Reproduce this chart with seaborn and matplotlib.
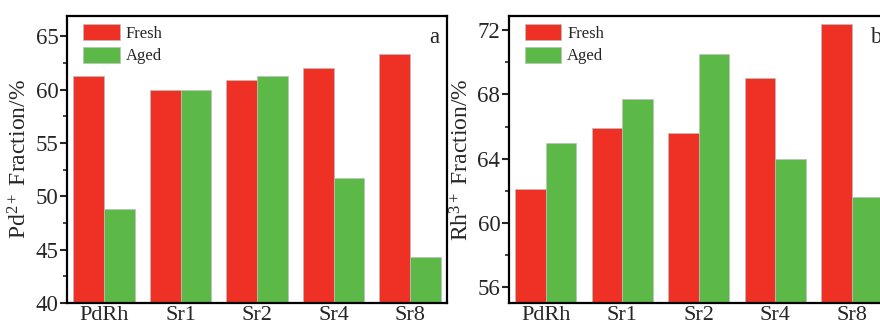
import matplotlib
matplotlib.use("Agg")
import matplotlib.pyplot as plt
from matplotlib.ticker import MultipleLocator
import pandas as pd
import seaborn as sns

# ---------------------------------------------------------------------------
# Data
# ---------------------------------------------------------------------------
samples = ["PdRh", "Sr1", "Sr2", "Sr4", "Sr8"]
states = ["Fresh", "Aged"]
pd_fresh = [61.3, 60.0, 60.9, 62.0, 63.3]
pd_aged = [48.8, 60.0, 61.3, 51.7, 44.3]
rh_fresh = [62.1, 65.9, 65.6, 69.0, 72.4]
rh_aged = [65.0, 67.7, 70.5, 64.0, 61.6]

colors = {"Fresh": "#EE3124", "Aged": "#5DB947"}


def long_frame(fresh, aged):
    return pd.DataFrame({
        "sample": samples * 2,
        "state": ["Fresh"] * len(samples) + ["Aged"] * len(samples),
        "value": list(fresh) + list(aged),
    })


sns.set_style("ticks")
plt.rcParams["font.family"] = ["Liberation Serif", "DejaVu Serif"]
plt.rcParams["mathtext.fontset"] = "custom"
plt.rcParams["mathtext.rm"] = "Liberation Serif"
plt.rcParams["mathtext.it"] = "Liberation Serif:italic"

fig = plt.figure(figsize=(8.8, 3.27), dpi=100)
ax_a = fig.add_axes([0.0761, 0.0734, 0.432, 0.878])
ax_b = fig.add_axes([0.578, 0.0734, 0.432, 0.878])

panels = [
    (ax_a, long_frame(pd_fresh, pd_aged), "Pd$^{2+}$ Fraction/%", (40, 66.9), 5, 2.5, "a"),
    (ax_b, long_frame(rh_fresh, rh_aged), "Rh$^{3+}$ Fraction/%", (55, 72.9), 4, 2, "b"),
]

for ax, df, ylabel, ylim, major, minor, tag in panels:
    sns.barplot(data=df, x="sample", y="value", hue="state", hue_order=states,
                order=samples, palette=colors, width=0.8, gap=0,
                edgecolor="#bdbdbd", linewidth=0.5, saturation=1,
                errorbar=None, ax=ax)
    ax.set_xlim(-0.485, 4.485)
    ax.set_ylim(*ylim)
    ax.yaxis.set_major_locator(MultipleLocator(major))
    ax.yaxis.set_minor_locator(MultipleLocator(minor))
    ax.set_xlabel("")
    ax.set_ylabel(ylabel, fontsize=17, labelpad=3)
    ax.tick_params(axis="y", which="major", direction="out", length=5, width=1.5,
                   labelsize=16.5, pad=1)
    ax.tick_params(axis="y", which="minor", direction="out", length=3, width=1.2)
    ax.tick_params(axis="x", length=0, labelsize=16, pad=2)
    for spine in ax.spines.values():
        spine.set_visible(True)
        spine.set_linewidth(1.6)
        spine.set_color("black")
    ax.legend(loc="upper left", bbox_to_anchor=(0.025, 0.995), frameon=False,
              fontsize=12, handlelength=2.2, handleheight=1.1, handletextpad=0.35,
              labelspacing=0.3, borderaxespad=0.2, borderpad=0.2)
    ax.text(0.965, 0.925, tag, transform=ax.transAxes, fontsize=16.5,
            ha="center", va="center")

fig.savefig("out.png", dpi=100)
